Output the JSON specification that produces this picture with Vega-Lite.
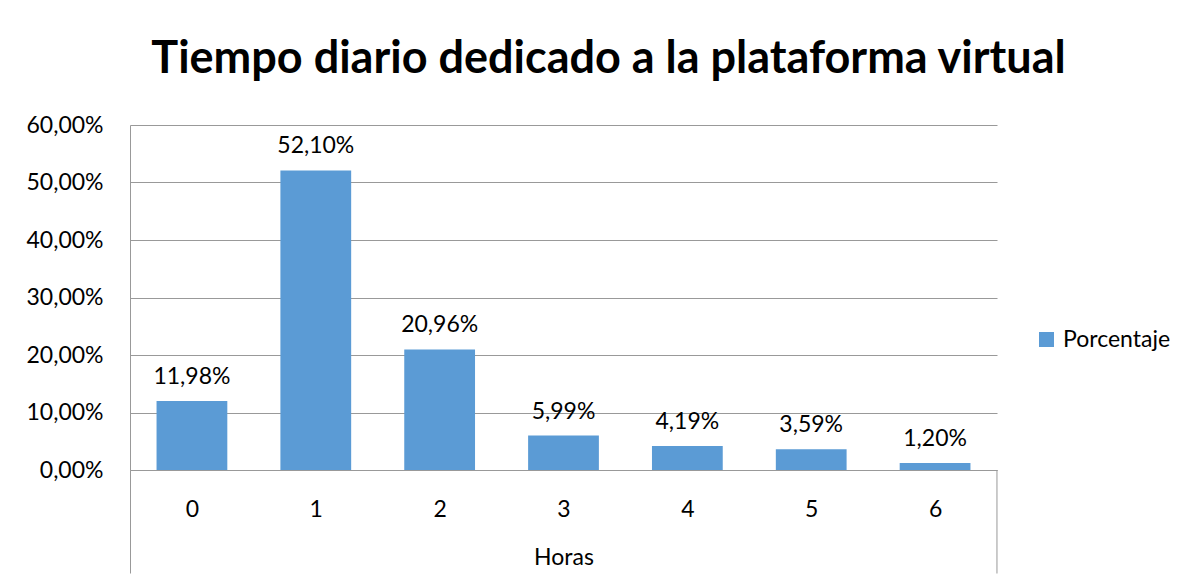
{
  "$schema": "https://vega.github.io/schema/vega-lite/v6.json",
  "autosize": {"type": "none"},
  "width": 867,
  "height": 345,
  "padding": {"left": 130, "top": 125, "right": 195, "bottom": 110},
  "background": "white",
  "config": {
    "font": "Lato",
    "view": {"stroke": null},
    "locale": {"number": {"decimal": ",", "thousands": ".", "grouping": [3], "currency": ["", " €"]}}
  },
  "title": {
    "text": "Tiempo diario dedicado a la plataforma virtual",
    "font": "Lato",
    "fontSize": 45,
    "fontWeight": "bold",
    "color": "#000000",
    "anchor": "middle",
    "frame": "group",
    "dx": 45,
    "baseline": "alphabetic",
    "offset": -4
  },
  "data": {
    "values": [
      {"horas": "0", "porcentaje": 0.1198},
      {"horas": "1", "porcentaje": 0.5210},
      {"horas": "2", "porcentaje": 0.2096},
      {"horas": "3", "porcentaje": 0.0599},
      {"horas": "4", "porcentaje": 0.0419},
      {"horas": "5", "porcentaje": 0.0359},
      {"horas": "6", "porcentaje": 0.0120}
    ]
  },
  "encoding": {
    "x": {
      "field": "horas",
      "type": "nominal",
      "sort": null,
      "scale": {"paddingInner": 0.4286, "paddingOuter": 0.2143},
      "axis": {
        "title": "Horas",
        "titleFont": "Lato",
        "titleFontSize": 23,
        "titleFontWeight": "normal",
        "titleColor": "#000000",
        "titleY": 87,
        "titleBaseline": "middle",
        "labelAngle": 0,
        "labelFontSize": 23,
        "labelColor": "#000000",
        "labelBaseline": "alphabetic",
        "labelPadding": -57,
        "labelOffset": 26.5,
        "domain": true,
        "domainColor": "#999999",
        "ticks": true,
        "bandPosition": 0,
        "tickOffset": -26.5,
        "tickSize": 103,
        "tickColor": "#999999",
        "tickOpacity": {"condition": {"test": "datum.index == 0", "value": 1}, "value": 0}
      }
    },
    "y": {
      "field": "porcentaje",
      "type": "quantitative",
      "scale": {"domain": [0, 0.6], "nice": false},
      "axis": {
        "title": null,
        "format": ".2%",
        "values": [0, 0.1, 0.2, 0.3, 0.4, 0.5, 0.6],
        "labelFontSize": 23,
        "labelColor": "#000000",
        "labelPadding": 27,
        "labelBaseline": "alphabetic",
        "labelOffset": 7,
        "ticks": false,
        "domain": true,
        "domainColor": "#999999",
        "grid": true,
        "gridColor": "#999999",
        "gridOpacity": 1
      }
    }
  },
  "layer": [
    {
      "mark": {"type": "bar"},
      "encoding": {
        "color": {
          "datum": "Porcentaje",
          "scale": {"range": ["#5B9BD5"]},
          "legend": {
            "title": null,
            "orient": "none",
            "legendX": 905,
            "legendY": 203,
            "symbolType": "square",
            "symbolSize": 225,
            "symbolStrokeWidth": 0,
            "symbolOpacity": 1,
            "labelFontSize": 23,
            "labelColor": "#000000",
            "labelOffset": 5
          }
        }
      }
    },
    {
      "mark": {"type": "text", "baseline": "alphabetic", "dy": -17, "fontSize": 23, "color": "#000000"},
      "encoding": {
        "text": {"field": "porcentaje", "type": "quantitative", "format": ".2%"}
      }
    },
    {
      "transform": [{"filter": "datum.horas == '6'"}],
      "mark": {"type": "rule", "color": "#999999", "strokeWidth": 1, "xOffset": 26.5},
      "encoding": {
        "x": {"field": "horas", "type": "nominal", "sort": null, "bandPosition": 1},
        "y": {"datum": 0},
        "y2": {"datum": -0.18}
      }
    }
  ]
}
